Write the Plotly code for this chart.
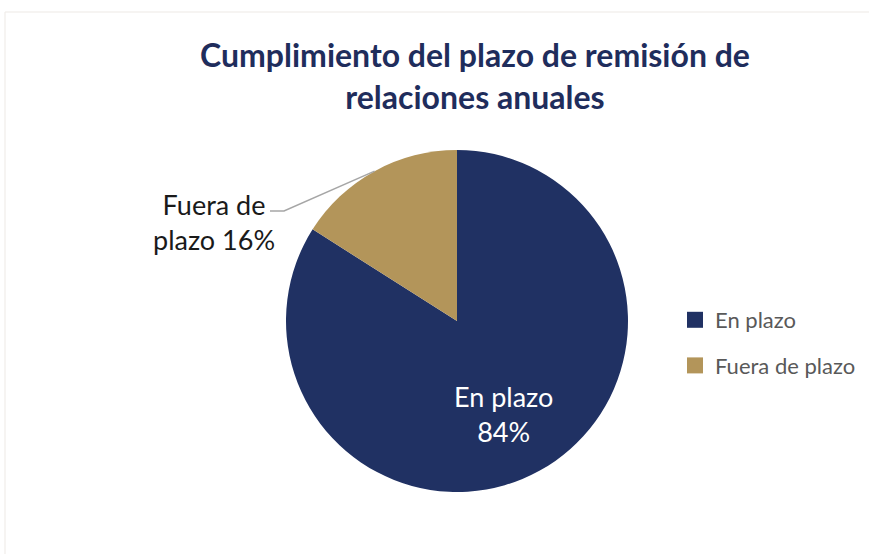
import math
import plotly.graph_objects as go

labels = ['En plazo', 'Fuera de plazo']
values = [84, 16]
colors = ['#203163', '#B3955A']
title = 'Cumplimiento del plazo de remisión de<br>relaciones anuales'

W, H = 869, 554
cx, cy, r = 457, 321, 171  # pie centre/radius in pixels (from top-left)

fig = go.Figure()
fig.add_trace(go.Pie(
    labels=labels, values=values, sort=False, direction='clockwise', rotation=0,
    marker=dict(colors=colors, line=dict(width=0)),
    textinfo='none',
    domain=dict(x=[(cx - r) / W, (cx + r) / W], y=[(H - cy - r) / H, (H - cy + r) / H]),
    hoverinfo='label+percent', showlegend=False,
))

# legend entries (square swatches, wider spacing than the pie legend allows)
for lab, col in zip(labels, colors):
    fig.add_trace(go.Scatter(x=[None], y=[None], mode='markers', name=lab, legendgroup=lab,
                             marker=dict(symbol='square', size=18, color=col)))

tot = sum(values)
pcts = [round(100 * v / tot) for v in values]

# label inside the big slice
fig.add_annotation(x=503 / W, y=1 - 414 / H, xref='paper', yref='paper',
                   xanchor='center', yanchor='middle', showarrow=False, align='center',
                   text=f'{labels[0]}<br>{pcts[0]}%',
                   font=dict(family='Lato', size=27, color='white'))

# leader line for the small slice: ends at the middle of its arc
mid = math.radians(360 * values[1] / tot / 2)
tx, ty = cx - r * math.sin(mid), cy - r * math.cos(mid)
lx, ly = 270, 211
fig.add_shape(type='path', xref='paper', yref='paper',
              path=f'M {lx/W} {1-ly/H} L {(lx+14)/W} {1-ly/H} L {tx/W} {1-ty/H}',
              line=dict(color='#A6A6A6', width=1.5))
fig.add_annotation(x=277 / W, y=1 - 222 / H, xref='paper', yref='paper',
                   xanchor='right', yanchor='middle', showarrow=False, align='center',
                   text=f'Fuera de<br>plazo {pcts[1]}%',
                   font=dict(family='Lato', size=27, color='#1a1a1a'))

# faint chart-area border
fig.add_shape(type='rect', xref='paper', yref='paper', x0=5 / W, x1=1.01, y0=-0.02, y1=1 - 12 / H,
              line=dict(color='#EDE9E5', width=1))

fig.update_layout(
    width=W, height=H,
    margin=dict(l=0, r=0, t=0, b=0),
    paper_bgcolor='white', plot_bgcolor='white',
    xaxis=dict(visible=False), yaxis=dict(visible=False),
    title=dict(text=title, x=475 / W, xanchor='center', y=1 - 67 / H, yanchor='middle',
               font=dict(family='Lato', size=32, color='#1F2D5C', weight='bold')),
    legend=dict(x=675 / W, y=1 - 343 / H, xanchor='left', yanchor='middle',
                font=dict(family='Lato', size=22, color='#595959'),
                tracegroupgap=14, bgcolor='rgba(0,0,0,0)'),
)

fig.write_html('out.html', config={'displayModeBar': False},
               post_script="document.body.style.margin='0';")
